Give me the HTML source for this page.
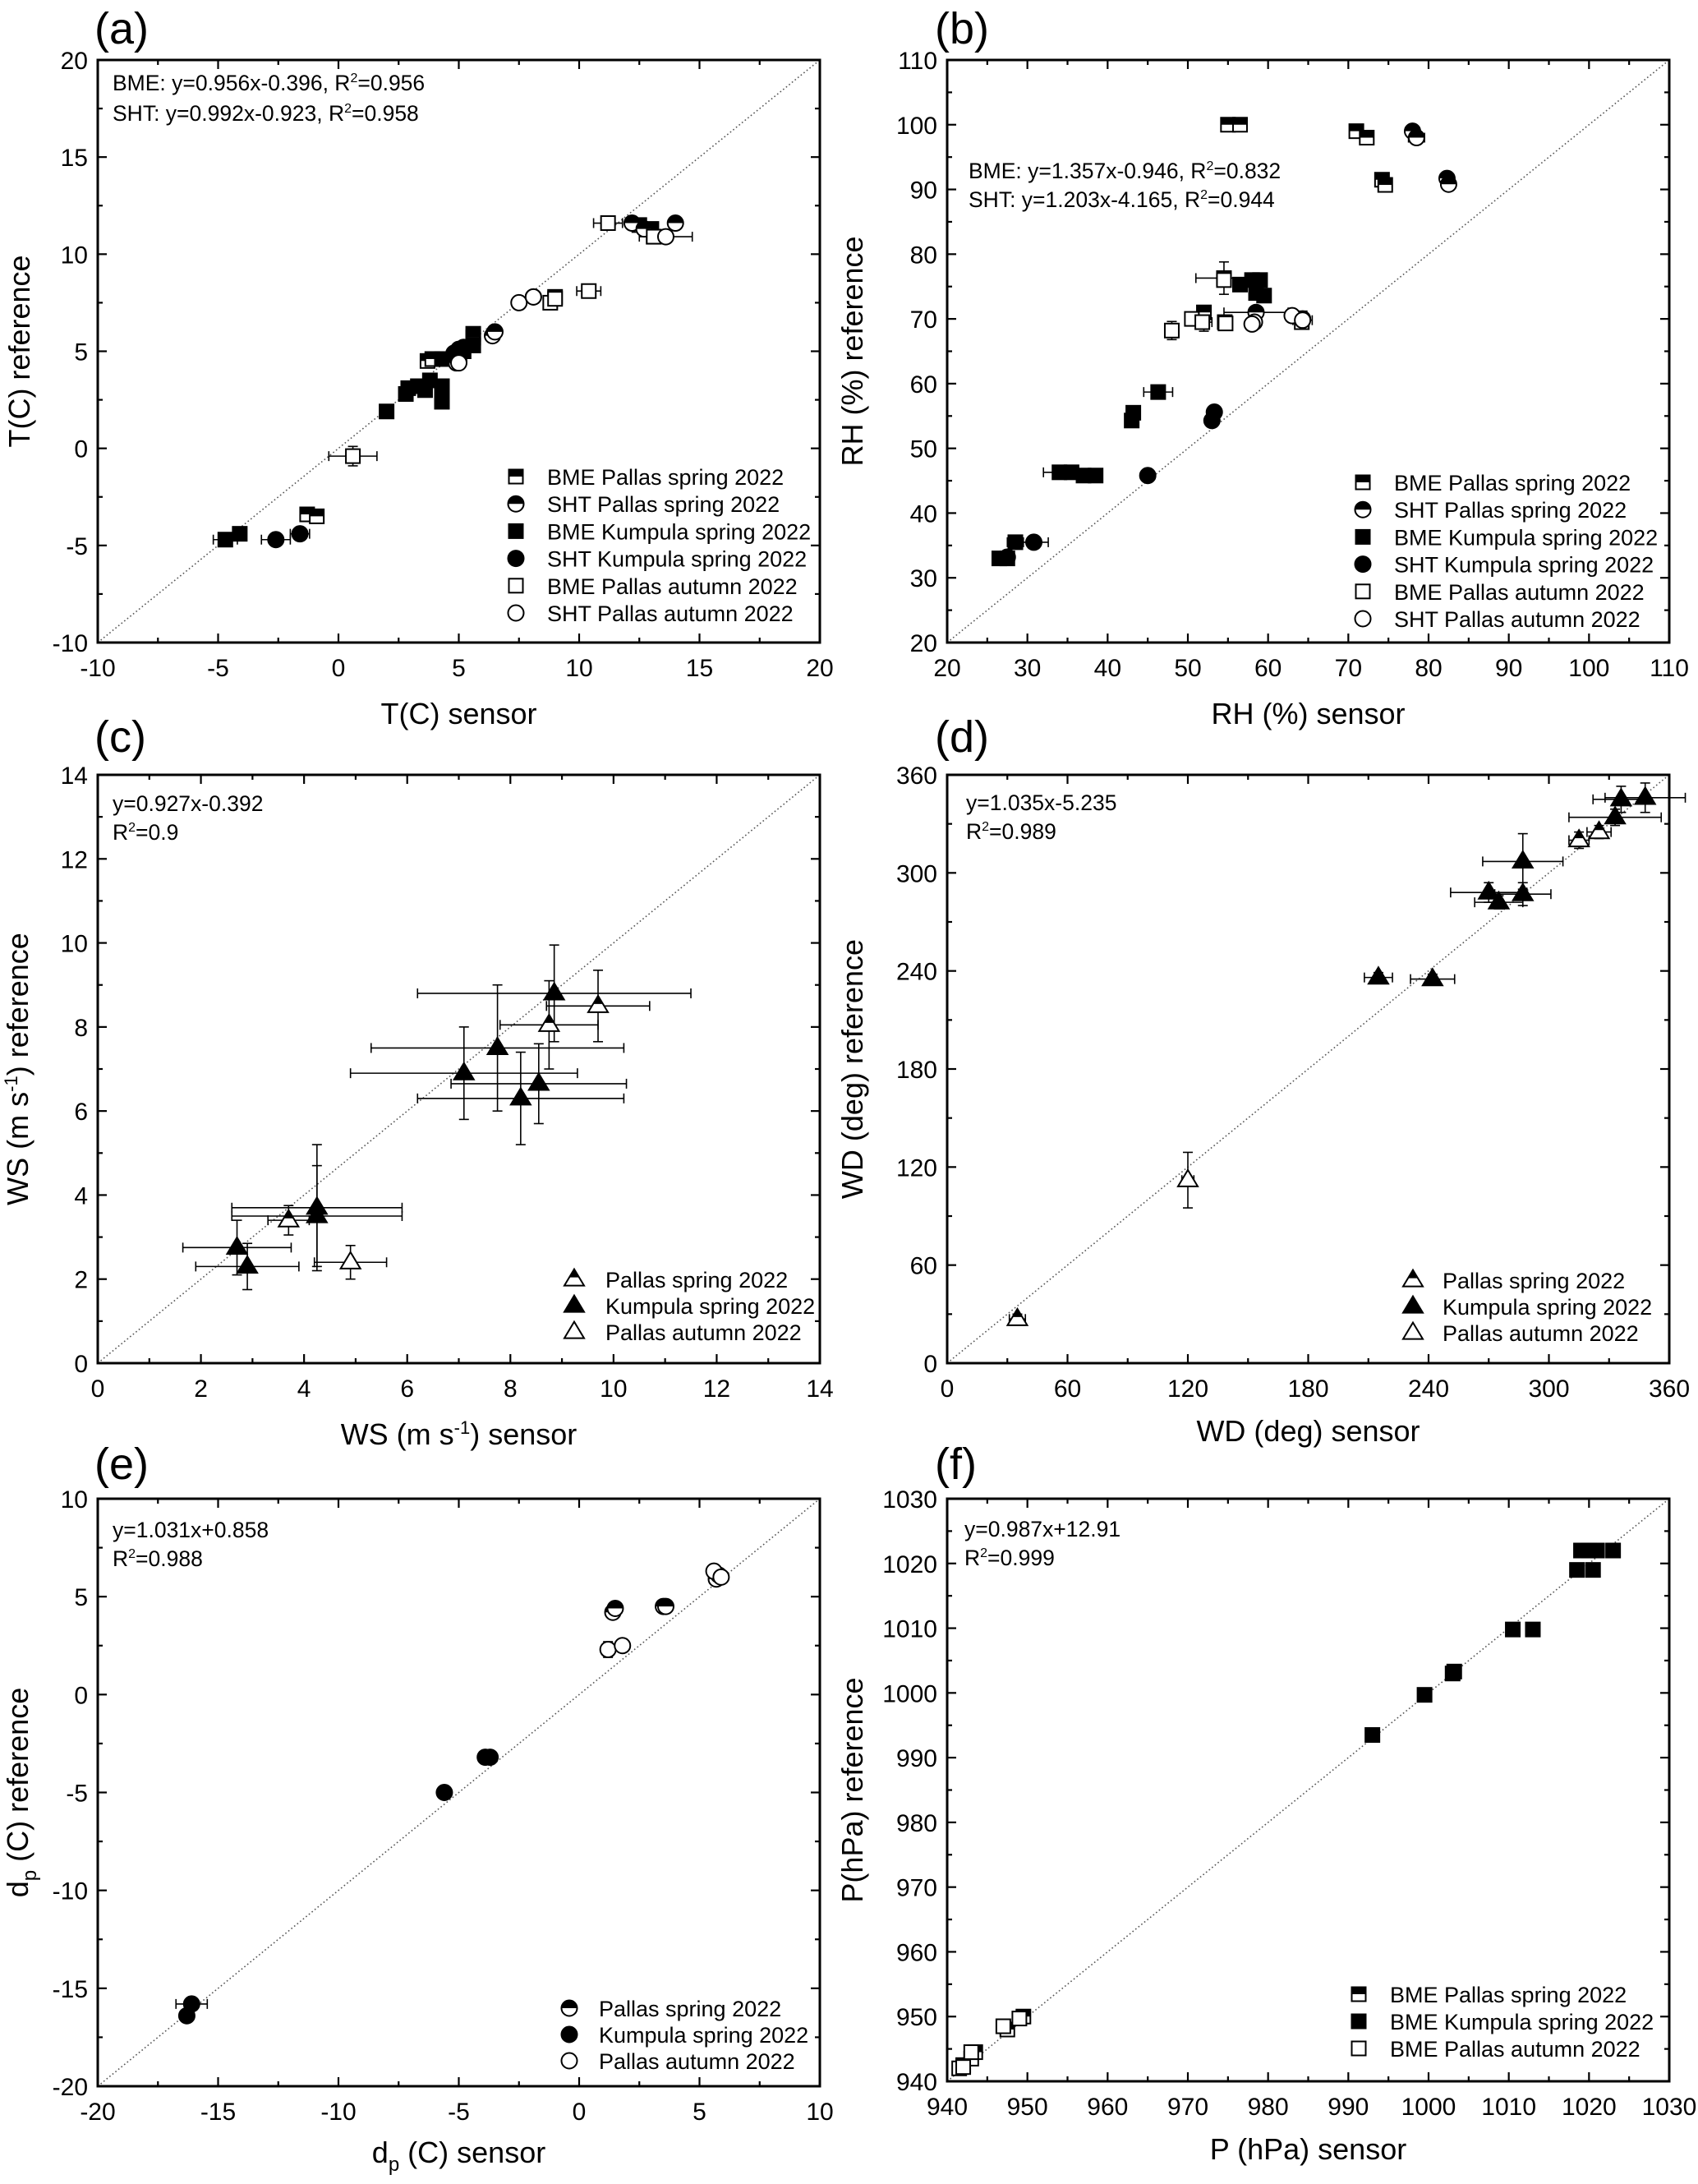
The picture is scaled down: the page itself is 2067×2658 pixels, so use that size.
<!DOCTYPE html>
<html><head><meta charset="utf-8">
<style>
html,body{margin:0;padding:0;background:#fff;}
svg{display:block;font-family:"Liberation Sans",Arial,sans-serif;}
</style></head>
<body>
<svg id="fig" width="2067" height="2658" viewBox="0 0 2067 2658" xmlns="http://www.w3.org/2000/svg"></svg>
<script>
// ---------- DATA (panel a: T) ----------
const a_bmePallasSpring = [[3.7,4.5],[3.9,4.6],[5.6,5.9],[5.6,5.7],[12.5,11.5],[13.0,11.3],[13.1,10.9],[-1.3,-3.4],[-0.9,-3.5],[9.0,7.8]];
const a_shtPallasSpring = [[4.9,4.4],[5.0,4.5],[6.4,5.8],[6.5,6.0],[12.2,11.6],[12.7,11.3],[14.0,11.6],[8.1,7.8]];
const a_bmeKumpula = [[-4.7,-4.7],[-4.1,-4.4],[2.0,1.9],[2.8,2.8],[2.9,3.1],[3.3,3.2],[3.6,3.0],[3.8,3.5],[4.3,3.2],[4.3,2.4],[4.3,4.6],[5.2,5.0],[5.6,5.3]];
const a_shtKumpula = [[-2.6,-4.7],[-1.6,-4.4],[4.8,4.9],[5.0,5.1],[5.2,5.2]];
const a_bmePallasAutumn = [[0.6,-0.4],[8.8,7.5],[9.0,7.7],[10.4,8.1],[11.2,11.6],[13.1,10.9]];
const a_shtPallasAutumn = [[7.5,7.5],[8.1,7.8],[13.6,10.9],[5.0,4.4]];
const a_errors = [[0.6,-0.4,1.0,0.5],[-4.7,-4.7,0.5,0],[-2.6,-4.7,0.6,0],[-1.6,-4.4,0.4,0],[13.6,10.9,1.1,0],[11.2,11.6,0.6,0],[10.4,8.1,0.5,0.2]];
// ---------- DATA (panel b: RH) ----------
const b_bmePallasSpring = [[55,100],[56.5,100],[71,99],[72.3,98],[74.2,91.5],[74.6,90.7],[52,71],[54.6,69.5]];
const b_shtPallasSpring = [[78,99],[78.5,98],[82.3,91.7],[82.5,90.8],[58.5,71],[64.3,70]];
const b_bmeKumpula = [[26.5,33],[27.5,33],[28.5,35.5],[34,46.3],[35.5,46.3],[37,45.8],[38.5,45.8],[43,54.3],[43.2,55.5],[46.3,58.7],[54.5,76.3],[56.5,75.3],[58,76],[59,76],[58.5,74],[59.5,73.6]];
const b_shtKumpula = [[27.5,33.2],[30.8,35.5],[45,45.8],[53,54.3],[53.3,55.6]];
const b_bmePallasAutumn = [[48,68.2],[50.5,70],[51.8,69.5],[54.7,69.3],[64.2,69.5],[54.5,76]];
const b_shtPallasAutumn = [[58.3,69.5],[63,70.5],[64.3,69.8],[58,69.2]];
const b_errors = [[54.5,76.3,3.5,2.5],[46.3,58.7,1.8,0],[34,46.3,2,0],[30.8,35.5,1.8,0],[28.5,35.5,1,0],[48,68.2,0,1.4],[52,69.5,1,1.4],[58.5,71,4,0],[64.3,69.8,1.2,1.4],[78.5,98,1,0]];
// ---------- DATA (panel c: WS) ----------
const c_pallasSpring = [[3.7,3.4],[8.75,8.05],[9.7,8.5]];
const c_kumpula = [[2.7,2.75],[2.9,2.3],[4.25,3.7],[4.25,3.5],[7.1,6.9],[7.75,7.5],[8.2,6.3],[8.55,6.65],[8.85,8.8]];
const c_pallasAutumn = [[4.9,2.4]];
const c_errors = [[2.7,2.75,1.05,0.65],[2.9,2.3,1.0,0.55],[4.25,3.7,1.65,1.5],[4.25,3.5,1.65,1.2],[7.1,6.9,2.2,1.1],[7.75,7.5,2.45,1.5],[8.2,6.3,2.0,1.1],[8.55,6.65,1.7,0.95],[8.85,8.8,2.65,1.15],[3.7,3.4,0.4,0.35],[8.75,8.05,0.95,1.05],[9.7,8.5,1.0,0.85],[4.9,2.4,0.7,0.4]];
// ---------- DATA (panel d: WD) ----------
const d_pallasSpring = [[35,27],[315,320],[325,325]];
const d_kumpula = [[215,236],[242,235],[270,288],[275,282],[287,307],[287,287],[333,334],[336,345],[348,346]];
const d_pallasAutumn = [[120,112]];
const d_errors = [[35,27,4,3],[315,320,5,5],[325,325,6,4],[215,236,7,3],[242,235,11,3],[270,288,19,6],[275,282,12,4],[287,307,20,17],[287,287,14,7],[333,334,23,5],[336,345,14,8],[348,346,20,9],[120,112,3,17]];
// ---------- DATA (panel e: dew point) ----------
const e_pallasSpring = [[1.4,4.2],[1.5,4.4],[3.5,4.5],[3.6,4.5],[5.7,5.9],[5.8,6.1]];
const e_kumpula = [[-16.3,-16.4],[-16.1,-15.8],[-5.6,-5.0],[-3.9,-3.2],[-3.7,-3.2]];
const e_pallasAutumn = [[1.2,2.3],[1.8,2.5],[5.6,6.3],[5.9,6.0]];
const e_errors = [[-16.1,-15.8,0.65,0.2],[1.2,2.3,0,0.4],[-16.3,-16.4,0,0.25]];
// ---------- DATA (panel f: P) ----------
const f_bmePallasSpring = [[942,942.5],[943,943.5],[943.5,944.5],[947.5,948],[949.5,950]];
const f_bmeKumpula = [[993,993.5],[999.5,999.7],[1003,1003],[1003.2,1003.3],[1010.5,1009.8],[1013,1009.8],[1018.5,1019],[1019,1022],[1020,1022],[1020.5,1019],[1021,1022],[1023,1022]];
const f_bmePallasAutumn = [[941.5,942],[942,942.2],[943,944.5],[947,948.5],[949,949.7]];
const f_errors = [];

const NS="http://www.w3.org/2000/svg";
const svg=document.getElementById('fig');
function el(tag,attrs,parent){const e=document.createElementNS(NS,tag);for(const k in attrs)e.setAttribute(k,attrs[k]);(parent||svg).appendChild(e);return e;}

function marker(g,kind,fill,cx,cy){
  const m=el('g',{},g);
  if(kind==='sq'){const s=8.5;
    el('rect',{x:cx-s,y:cy-s,width:2*s,height:2*s,fill:fill==='full'?'#000':'#fff',stroke:'#000','stroke-width':2},m);
    if(fill==='half')el('rect',{x:cx-s,y:cy-s,width:2*s,height:s,fill:'#000'},m);
  } else if(kind==='ci'){const r=9.5;
    el('circle',{cx:cx,cy:cy,r:r,fill:fill==='full'?'#000':'#fff',stroke:'#000','stroke-width':2},m);
    if(fill==='half')el('path',{d:`M${cx-r},${cy} A${r},${r} 0 0 1 ${cx+r},${cy} Z`,fill:'#000'},m);
  } else {const h=20,w=12;
    el('polygon',{points:`${cx},${cy-h*0.62} ${cx+w},${cy+h*0.38} ${cx-w},${cy+h*0.38}`,fill:fill==='full'?'#000':'#fff',stroke:'#000','stroke-width':2},m);
    if(fill==='half'){const yh=cy-h*0.12;const ww=w*0.5;
      el('polygon',{points:`${cx},${cy-h*0.62} ${cx+ww},${yh} ${cx-ww},${yh}`,fill:'#000'},m);}
  }
  return m;
}

function text(g,x,y,str,size,anchor,extra){
  const t=el('text',Object.assign({x:x,y:y,'font-size':size,'text-anchor':anchor||'start',fill:'#000'},extra||{}),g);
  t.innerHTML=str;return t;
}

function panel(cfg){
  const g=el('g',{});
  
  
  const {L,R,T,B,xmin,xmax,ymin,ymax}=cfg;
  const sx=v=>L+(v-xmin)/(xmax-xmin)*(R-L);
  const sy=v=>B-(v-ymin)/(ymax-ymin)*(B-T);
  const pl=text(g,cfg.labX,cfg.labY,cfg.label,54,'start');
  
  
  const d=el('line',{x1:sx(Math.max(xmin,ymin)),y1:sy(Math.max(xmin,ymin)),x2:sx(Math.min(xmax,ymax)),y2:sy(Math.min(xmax,ymax)),stroke:'#555','stroke-width':1.6,'stroke-dasharray':'1.6 3'},g);
  
  
  const tg=el('g',{stroke:'#000','stroke-width':2.2},g);
  for(let v=xmin;v<=xmax+1e-9;v+=cfg.xstep/2){
    const major=Math.abs(((v-xmin)/cfg.xstep)-Math.round((v-xmin)/cfg.xstep))<1e-6;
    const len=major?11:6;const x=sx(v);
    el('line',{x1:x,y1:B,x2:x,y2:B-len},tg);el('line',{x1:x,y1:T,x2:x,y2:T+len},tg);
    if(major){const t=text(g,x,B+41,String(Math.round(v)),30,'middle');}
  }
  for(let v=ymin;v<=ymax+1e-9;v+=cfg.ystep/2){
    const major=Math.abs(((v-ymin)/cfg.ystep)-Math.round((v-ymin)/cfg.ystep))<1e-6;
    const len=major?11:6;const y=sy(v);
    el('line',{x1:L,y1:y,x2:L+len,y2:y},tg);el('line',{x1:R,y1:y,x2:R-len,y2:y},tg);
    if(major){const t=text(g,L-12,y+11,String(Math.round(v)),30,'end');}
  }
  const eg=el('g',{stroke:'#000','stroke-width':1.6},g);
  cfg.errors.forEach(e=>{
    const x=sx(e[0]),y=sy(e[1]);
    if(e[2]>0){const x1=sx(e[0]-e[2]),x2=sx(e[0]+e[2]);
      el('line',{x1:x1,y1:y,x2:x2,y2:y},eg);el('line',{x1:x1,y1:y-6,x2:x1,y2:y+6},eg);el('line',{x1:x2,y1:y-6,x2:x2,y2:y+6},eg);}
    if(e[3]>0){const y1=sy(e[1]-e[3]),y2=sy(e[1]+e[3]);
      el('line',{x1:x,y1:y1,x2:x,y2:y2},eg);el('line',{x1:x-6,y1:y1,x2:x+6,y2:y1},eg);el('line',{x1:x-6,y1:y2,x2:x+6,y2:y2},eg);}
  });
  cfg.series.forEach(s=>{
    const sg=el('g',{},g);
    
    
    s.data.forEach(p=>{const m=marker(sg,s.kind,s.fill,sx(p[0]),sy(p[1]));
      
      });
  });
  const fr=el('rect',{x:L,y:T,width:R-L,height:B-T,fill:'none',stroke:'#000','stroke-width':3},g);
  
  
  cfg.ann.forEach((a,i)=>{const t=text(g,cfg.annX,cfg.annY[i]+9,a,26.5,'start');
    
    });
  cfg.series.forEach((s,i)=>{
    const lg=el('g',{},g);
    
    
    const y=cfg.legY+i*cfg.legDy;
    marker(lg,s.kind,s.fill,cfg.legMX,y);
    text(lg,cfg.legTX,y+10,s.label,27,'start');
  });
  const xt=text(g,(L+R)/2,B+cfg.xtOff,cfg.xtitle,36,'middle');
  
  
  const cy=(T+B)/2;
  const yt=text(g,cfg.ytX,cy,cfg.ytitle,36,'middle',{transform:`rotate(-90 ${cfg.ytX} ${cy})`});
  
  
}
const R2='R<tspan font-size="16" dy="-10">2</tspan><tspan dy="10">=</tspan>';
const MS='(m s<tspan font-size="22" dy="-13">-1</tspan><tspan dy="13">)</tspan>';
const DP='d<tspan font-size="24" dy="10">p</tspan><tspan dy="-10"> (C)</tspan>';
const lx={L:119,R:998}, rx={L:1153,R:2032};

panel(Object.assign({name:'panel-a-temperature',label:'(a)',labX:115,labY:53,T:73,B:782,xmin:-10,xmax:20,ymin:-10,ymax:20,xstep:5,ystep:5,
  errors:a_errors,xtitle:'T(C) sensor',ytitle:'T(C) reference',xtOff:99,ytX:36,
  ann:['BME: y=0.956x-0.396, '+R2+'0.956','SHT: y=0.992x-0.923, '+R2+'0.958'],annX:137,annY:[101,138],
  legMX:628,legTX:666,legY:580,legDy:33.2,
  series:[{id:'bme-pallas-spring',kind:'sq',fill:'half',data:a_bmePallasSpring,label:'BME Pallas spring 2022'},
    {id:'sht-pallas-spring',kind:'ci',fill:'half',data:a_shtPallasSpring,label:'SHT Pallas spring 2022'},
    {id:'bme-kumpula-spring',kind:'sq',fill:'full',data:a_bmeKumpula,label:'BME Kumpula spring 2022'},
    {id:'sht-kumpula-spring',kind:'ci',fill:'full',data:a_shtKumpula,label:'SHT Kumpula spring 2022'},
    {id:'bme-pallas-autumn',kind:'sq',fill:'open',data:a_bmePallasAutumn,label:'BME Pallas autumn 2022'},
    {id:'sht-pallas-autumn',kind:'ci',fill:'open',data:a_shtPallasAutumn,label:'SHT Pallas autumn 2022'}]},lx));

panel(Object.assign({name:'panel-b-humidity',label:'(b)',labX:1138,labY:53,T:73,B:782,xmin:20,xmax:110,ymin:20,ymax:110,xstep:10,ystep:10,
  errors:b_errors,xtitle:'RH (%) sensor',ytitle:'RH (%) reference',xtOff:99,ytX:1050,
  ann:['BME: y=1.357x-0.946, '+R2+'0.832','SHT: y=1.203x-4.165, '+R2+'0.944'],annX:1179,annY:[208,243],
  legMX:1659,legTX:1697,legY:587,legDy:33.2,
  series:[{id:'bme-pallas-spring',kind:'sq',fill:'half',data:b_bmePallasSpring,label:'BME Pallas spring 2022'},
    {id:'sht-pallas-spring',kind:'ci',fill:'half',data:b_shtPallasSpring,label:'SHT Pallas spring 2022'},
    {id:'bme-kumpula-spring',kind:'sq',fill:'full',data:b_bmeKumpula,label:'BME Kumpula spring 2022'},
    {id:'sht-kumpula-spring',kind:'ci',fill:'full',data:b_shtKumpula,label:'SHT Kumpula spring 2022'},
    {id:'bme-pallas-autumn',kind:'sq',fill:'open',data:b_bmePallasAutumn,label:'BME Pallas autumn 2022'},
    {id:'sht-pallas-autumn',kind:'ci',fill:'open',data:b_shtPallasAutumn,label:'SHT Pallas autumn 2022'}]},rx));

panel(Object.assign({name:'panel-c-wind-speed',label:'(c)',labX:115,labY:915,T:943,B:1659,xmin:0,xmax:14,ymin:0,ymax:14,xstep:2,ystep:2,
  errors:c_errors,xtitle:'WS '+MS+' sensor',ytitle:'WS '+MS+' reference',xtOff:99,ytX:34,
  ann:['y=0.927x-0.392',R2+'0.9'],annX:137,annY:[978,1013],
  legMX:699,legTX:737,legY:1557,legDy:32,
  series:[{id:'pallas-spring',kind:'tr',fill:'half',data:c_pallasSpring,label:'Pallas spring 2022'},
    {id:'kumpula-spring',kind:'tr',fill:'full',data:c_kumpula,label:'Kumpula spring 2022'},
    {id:'pallas-autumn',kind:'tr',fill:'open',data:c_pallasAutumn,label:'Pallas autumn 2022'}]},lx));

panel(Object.assign({name:'panel-d-wind-direction',label:'(d)',labX:1138,labY:915,T:943,B:1659,xmin:0,xmax:360,ymin:0,ymax:360,xstep:60,ystep:60,
  errors:d_errors,xtitle:'WD (deg) sensor',ytitle:'WD (deg) reference',xtOff:95,ytX:1050,
  ann:['y=1.035x-5.235',R2+'0.989'],annX:1176,annY:[977,1012],
  legMX:1720,legTX:1756,legY:1558,legDy:32,
  series:[{id:'pallas-spring',kind:'tr',fill:'half',data:d_pallasSpring,label:'Pallas spring 2022'},
    {id:'kumpula-spring',kind:'tr',fill:'full',data:d_kumpula,label:'Kumpula spring 2022'},
    {id:'pallas-autumn',kind:'tr',fill:'open',data:d_pallasAutumn,label:'Pallas autumn 2022'}]},rx));

panel(Object.assign({name:'panel-e-dew-point',label:'(e)',labX:115,labY:1800,T:1824,B:2539,xmin:-20,xmax:10,ymin:-20,ymax:10,xstep:5,ystep:5,
  errors:e_errors,xtitle:DP+' sensor',ytitle:DP+' reference',xtOff:93,ytX:34,
  ann:['y=1.031x+0.858',R2+'0.988'],annX:137,annY:[1862,1897],
  legMX:693,legTX:729,legY:2444,legDy:32,
  series:[{id:'pallas-spring',kind:'ci',fill:'half',data:e_pallasSpring,label:'Pallas spring 2022'},
    {id:'kumpula-spring',kind:'ci',fill:'full',data:e_kumpula,label:'Kumpula spring 2022'},
    {id:'pallas-autumn',kind:'ci',fill:'open',data:e_pallasAutumn,label:'Pallas autumn 2022'}]},lx));

panel(Object.assign({name:'panel-f-pressure',label:'(f)',labX:1138,labY:1800,T:1824,B:2533,xmin:940,xmax:1030,ymin:940,ymax:1030,xstep:10,ystep:10,
  errors:f_errors,xtitle:'P (hPa) sensor',ytitle:'P(hPa) reference',xtOff:95,ytX:1050,
  ann:['y=0.987x+12.91',R2+'0.999'],annX:1174,annY:[1861,1896],
  legMX:1654,legTX:1692,legY:2427,legDy:33,
  series:[{id:'bme-pallas-spring',kind:'sq',fill:'half',data:f_bmePallasSpring,label:'BME Pallas spring 2022'},
    {id:'bme-kumpula-spring',kind:'sq',fill:'full',data:f_bmeKumpula,label:'BME Kumpula spring 2022'},
    {id:'bme-pallas-autumn',kind:'sq',fill:'open',data:f_bmePallasAutumn,label:'BME Pallas autumn 2022'}]},rx));
</script>
</body></html>
